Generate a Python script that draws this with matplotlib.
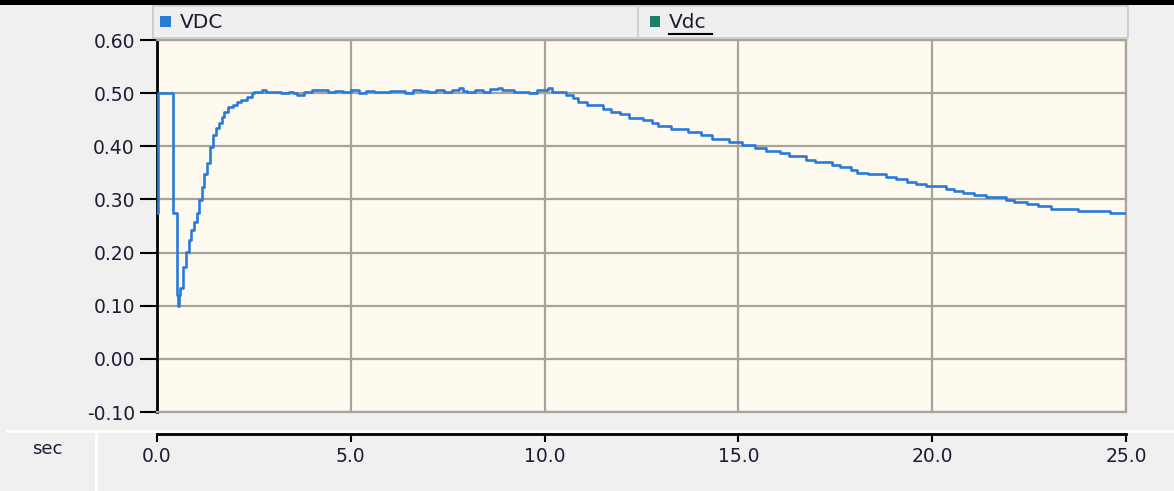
import matplotlib
matplotlib.use("Agg")
import matplotlib.pyplot as plt
from matplotlib.patches import Rectangle
from matplotlib.lines import Line2D

# VDC trace (sec, value)
t_start = [0.0, 0.02, 0.42, 0.51, 0.53, 0.57, 0.60, 0.68, 0.75, 0.82, 0.885, 0.955,
           1.02, 1.09, 1.15, 1.21, 1.30, 1.37, 1.45, 1.52, 1.61, 1.67, 1.73, 1.84,
           1.97, 2.06, 2.18, 2.31, 2.44]
v_start = [0.275, 0.50, 0.275, 0.120, 0.099, 0.120, 0.133, 0.173, 0.202, 0.224, 0.242, 0.258,
           0.275, 0.299, 0.324, 0.348, 0.369, 0.399, 0.421, 0.434, 0.443, 0.455, 0.465, 0.473,
           0.478, 0.484, 0.488, 0.493, 0.500]

t_flat = [2.5, 2.7, 2.8, 3.0, 3.2, 3.4, 3.5, 3.6, 3.8, 4.0, 4.2, 4.4, 4.6, 4.8, 5.0, 5.2, 5.4,
          5.6, 5.8, 6.0, 6.2, 6.4, 6.6, 6.8, 7.0, 7.2, 7.4, 7.6, 7.8, 7.9, 8.0, 8.2, 8.4,
          8.6, 8.8, 8.9, 9.0, 9.2, 9.4, 9.6, 9.8, 10.0, 10.1, 10.2]
v_flat = [0.503, 0.506, 0.503, 0.502, 0.500, 0.503, 0.501, 0.497, 0.503, 0.505, 0.505, 0.502,
          0.504, 0.503, 0.506, 0.501, 0.504, 0.503, 0.502, 0.504, 0.504, 0.501, 0.505, 0.504,
          0.503, 0.505, 0.502, 0.506, 0.509, 0.504, 0.503, 0.505, 0.503, 0.507, 0.509, 0.505,
          0.505, 0.503, 0.502, 0.500, 0.505, 0.506, 0.509, 0.503]

t_fall = [10.55, 10.72, 10.86, 11.1, 11.5, 11.72, 11.94, 12.19, 12.54, 12.77, 12.93,
          13.26, 13.71, 14.04, 14.32, 14.76, 15.09, 15.42, 15.7, 16.08, 16.3, 16.75,
          16.97, 17.41, 17.63, 17.9, 18.07, 18.35, 18.8, 19.07, 19.35, 19.57, 19.85,
          20.35, 20.57, 20.8, 21.07, 21.4, 21.9, 22.1, 22.45, 22.72, 23.06, 23.77,
          24.6, 25.0]
v_fall = [0.497, 0.490, 0.484, 0.478, 0.471, 0.465, 0.460, 0.454, 0.449, 0.443, 0.438,
          0.433, 0.427, 0.421, 0.413, 0.408, 0.402, 0.397, 0.392, 0.387, 0.381, 0.375,
          0.370, 0.365, 0.361, 0.356, 0.350, 0.347, 0.343, 0.338, 0.333, 0.329, 0.325,
          0.320, 0.316, 0.312, 0.308, 0.304, 0.299, 0.296, 0.291, 0.287, 0.282, 0.279,
          0.274, 0.274]

t = t_start + t_flat + t_fall
v = v_start + v_flat + v_fall

y_ticks = [-0.10, 0.00, 0.10, 0.20, 0.30, 0.40, 0.50, 0.60]
x_ticks = [0.0, 5.0, 10.0, 15.0, 20.0, 25.0]

W, H = 1174, 491
bg = "#f0f0f0"
txt = "#1c1c34"

fig = plt.figure(figsize=(W / 100, H / 100), dpi=100, facecolor=bg)

def fx(px):
    return px / W

def fy(py):
    return 1 - py / H

# main plot area
ax = fig.add_axes([fx(157), fy(412), fx(1126) - fx(157), fy(40) - fy(412)])
ax.set_facecolor("#fefaef")
ax.plot(t, v, drawstyle="steps-post", color="#2a7bd9", lw=1.9, zorder=3)
ax.set_xlim(0, 25)
ax.set_ylim(-0.1, 0.6)
ax.set_xticks(x_ticks)
ax.set_yticks(y_ticks)
ax.set_yticklabels(["%.2f" % y for y in y_ticks])
ax.grid(True, color="#a8a39a", lw=1.6)
ax.set_axisbelow(True)
ax.tick_params(axis="x", length=0, labelbottom=False)
ax.tick_params(axis="y", length=12, width=1.5, color="black", labelsize=13.5,
               labelcolor=txt, pad=4)
for s in ["top", "right", "bottom"]:
    ax.spines[s].set_color("#a8a39a")
    ax.spines[s].set_linewidth(1.6)
ax.spines["left"].set_color("black")
ax.spines["left"].set_linewidth(2)

# separate time axis at the bottom
ax2 = fig.add_axes([fx(157), fy(434), fx(1126) - fx(157), 0.0001])
ax2.set_xlim(0, 25)
ax2.set_xticks(x_ticks)
ax2.set_xticklabels(["%.1f" % x for x in x_ticks])
ax2.set_yticks([])
ax2.patch.set_alpha(0)
for s in ["top", "right", "left"]:
    ax2.spines[s].set_visible(False)
ax2.spines["bottom"].set_linewidth(2)
ax2.tick_params(axis="x", length=6, width=1.5, labelsize=13.5, labelcolor=txt, pad=3)

# separators in the lower panel
fig.add_artist(Line2D([fx(7), 1], [fy(431), fy(431)], color="white", lw=2))
fig.add_artist(Line2D([fx(96), fx(96)], [fy(431), 0], color="white", lw=2))
fig.text(fx(47), fy(449), "sec", ha="center", va="center", fontsize=13, color=txt)

# black strip at top
fig.add_artist(Rectangle((0, fy(5)), 1, fy(0) - fy(5), color="black", lw=0))

# legend bar
fig.add_artist(Rectangle((fx(153), fy(38)), fx(1128) - fx(153), fy(6) - fy(38),
                         facecolor="#efefef", edgecolor="#c8c8c8", lw=1.2))
fig.add_artist(Line2D([fx(638), fx(638)], [fy(38), fy(6)], color="#d0d0d0", lw=1.5))
fig.add_artist(Rectangle((fx(160), fy(27)), fx(11), fy(16) - fy(27), color="#2a7bd9", lw=0))
fig.text(fx(180), fy(22), "VDC", ha="left", va="center", fontsize=14.5, color=txt)
fig.add_artist(Rectangle((fx(650), fy(27)), fx(10), fy(16) - fy(27), color="#1a8068", lw=0))
fig.text(fx(669), fy(22), "Vdc", ha="left", va="center", fontsize=14.5, color=txt)
fig.add_artist(Line2D([fx(669), fx(712)], [fy(34), fy(34)], color="black", lw=1.5))

fig.savefig("out.png", dpi=100, facecolor=bg)
